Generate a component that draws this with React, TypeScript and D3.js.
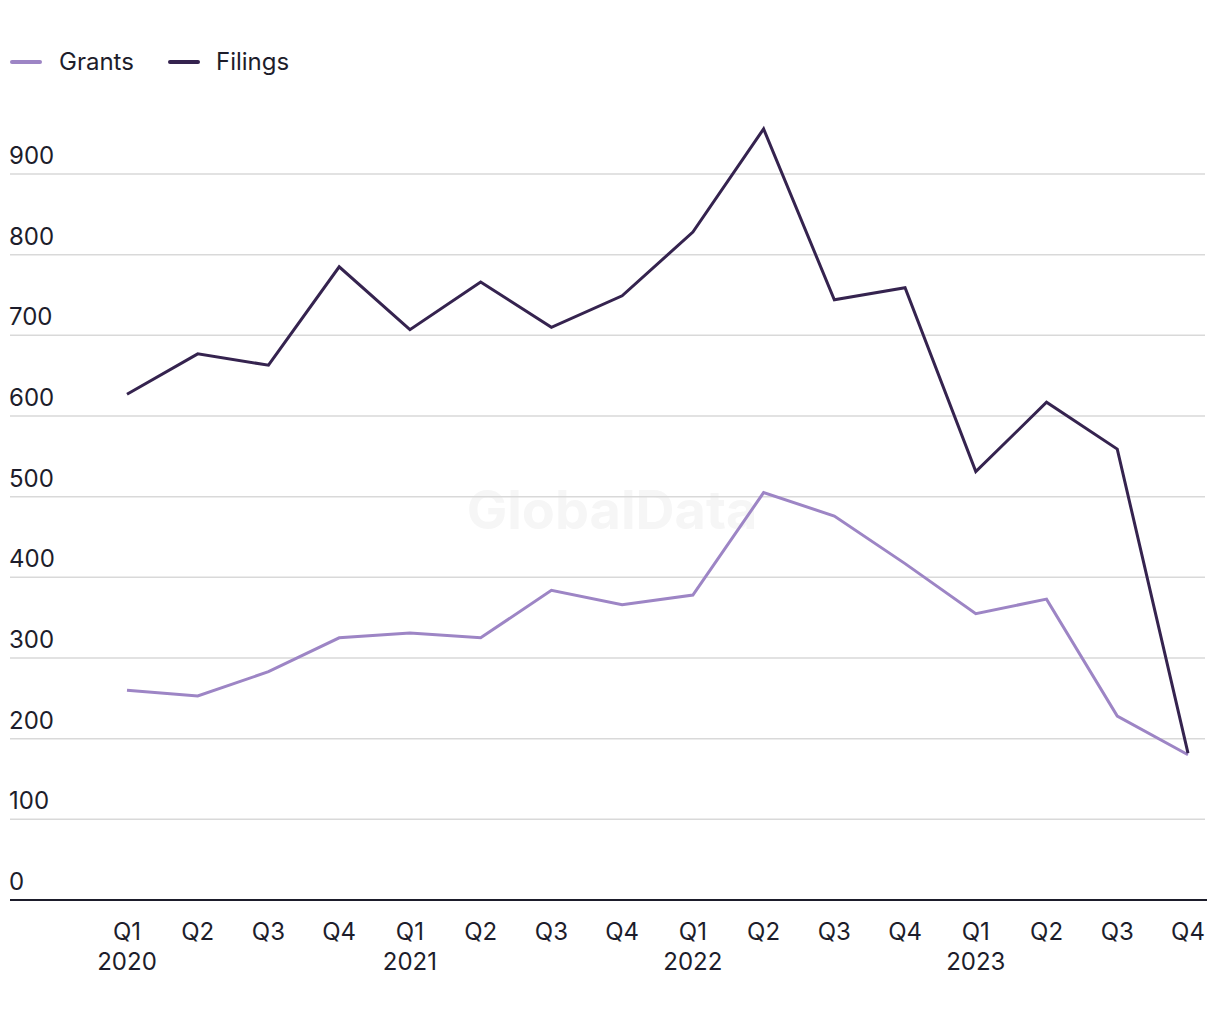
import React from "react";
import * as d3 from "d3";

const quarters = ["Q1", "Q2", "Q3", "Q4", "Q1", "Q2", "Q3", "Q4", "Q1", "Q2", "Q3", "Q4", "Q1", "Q2", "Q3", "Q4"];
const years = ["2020", "", "", "", "2021", "", "", "", "2022", "", "", "", "2023", "", "", ""];
const grants = [260, 253, 283, 325, 331, 325, 384, 366, 378, 505, 476, 417, 355, 373, 228, 180];
const filings = [627, 677, 663, 785, 707, 766, 710, 749, 828, 956, 744, 759, 531, 617, 559, 182];
const yTicks = [0, 100, 200, 300, 400, 500, 600, 700, 800, 900];

const GRANT_COLOR = "#9d85c5";
const FILING_COLOR = "#35234f";
const TEXT = "#1d1d2b";
const FONT = "Inter, 'Liberation Sans', Arial, sans-serif";
const FS = 24;

export default function App() {
  const W = 1220, H = 1020;
  const x = d3.scalePoint<number>().domain(d3.range(quarters.length)).range([127, 1188]);
  const y = d3.scaleLinear().domain([0, 900]).range([900, 174]);
  const line = d3.line<number>().x((_, i) => x(i)!).y((d) => y(d));

  return (
    <svg width={W} height={H} style={{ position: "absolute", left: 0, top: 0, background: "#fff" }}>
      <text x={612} y={529} textAnchor="middle" fontFamily={FONT} fontWeight={700} fontSize={54} fill="#f6f6f6">GlobalData</text>
      {yTicks.map((t) => (
        <g key={t}>
          {t > 0 && <line x1={10} x2={1205} y1={y(t)} y2={y(t)} stroke="#d9d9d9" strokeWidth={1.5} />}
          <text x={9} y={y(t) - 10} fontFamily={FONT} fontSize={FS} fill={TEXT}>{t}</text>
        </g>
      ))}
      <line x1={10} x2={1207} y1={900} y2={900} stroke={TEXT} strokeWidth={2} />
      {quarters.map((q, i) => (
        <g key={i}>
          <text x={x(i)} y={940} textAnchor="middle" fontFamily={FONT} fontSize={FS} fill={TEXT}>{q}</text>
          {years[i] && <text x={x(i)} y={970} textAnchor="middle" fontFamily={FONT} fontSize={FS} fill={TEXT}>{years[i]}</text>}
        </g>
      ))}
      <path d={line(grants)!} fill="none" stroke={GRANT_COLOR} strokeWidth={3} strokeLinejoin="miter" />
      <path d={line(filings)!} fill="none" stroke={FILING_COLOR} strokeWidth={3} strokeLinejoin="miter" />
      <line x1={12} x2={40} y1={62} y2={62} stroke={GRANT_COLOR} strokeWidth={4} strokeLinecap="round" />
      <text x={59} y={70} fontFamily={FONT} fontSize={FS} fill={TEXT}>Grants</text>
      <line x1={170} x2={198} y1={62} y2={62} stroke={FILING_COLOR} strokeWidth={4} strokeLinecap="round" />
      <text x={216} y={70} fontFamily={FONT} fontSize={FS} fill={TEXT}>Filings</text>
    </svg>
  );
}
